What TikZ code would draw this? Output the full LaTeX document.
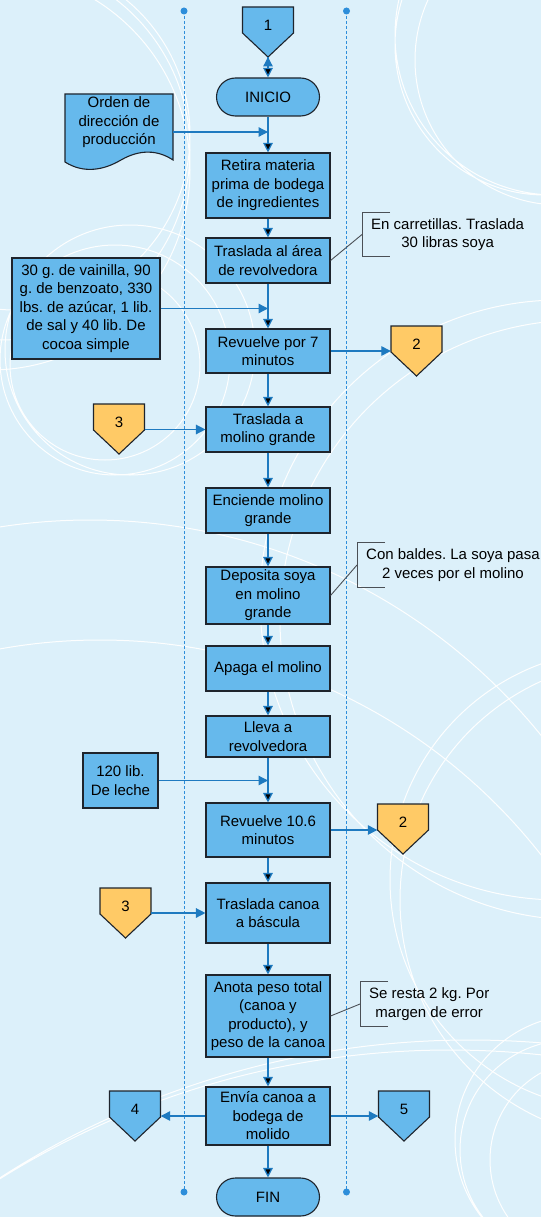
\documentclass[tikz,border=0pt]{standalone}
\usepackage{fontspec}
\setmainfont{Liberation Sans}
\usetikzlibrary{arrows.meta}
\definecolor{fondo}{RGB}{220,240,250}
\definecolor{azulCaja}{RGB}{102,185,236}
\definecolor{naranja}{RGB}{255,202,102}
\definecolor{azulLinea}{RGB}{30,122,192}
\definecolor{azulGuia}{RGB}{45,142,218}
\definecolor{borde}{RGB}{30,36,44}

% conector de pagina: nombre, centro, relleno, numero
\newcommand{\conector}[4]{%
  \filldraw[fill=#3,draw=borde,line width=1.1pt] (#2) ++(-25.5,-18.5) -- ++(51,0) -- ++(0,26)
    -- ++(-25.5,24) -- ++(-25.5,-24) -- cycle;
  \node[conector] (#1) at (#2) {#4};
  \path (#2) ++(0,31.5) coordinate (#1-punta);
}

\begin{document}
\begin{tikzpicture}[x=1pt,y=-1pt,>={Triangle[length=9.5pt,width=9.5pt]},font=\fontsize{15}{18.5}\selectfont\frenchspacing]
  \tikzstyle{proceso}=[rectangle,draw=borde,fill=azulCaja,line width=1.1pt,minimum width=124pt,align=center,inner sep=1pt]
  \tikzstyle{terminal}=[proceso,rounded corners=19pt,minimum width=103pt,minimum height=38pt]
  \tikzstyle{conector}=[rectangle,minimum width=51pt,minimum height=37pt,inner sep=0pt]
  \tikzstyle{nota}=[anchor=west,align=center,minimum height=44pt,inner xsep=9pt,inner ysep=0pt]
  \tikzstyle{flecha}=[->,draw=azulLinea,line width=1.3pt]
  \tikzstyle{corchete}=[draw=borde!80,line width=0.9pt]
  \tikzstyle{aro}=[white,line width=1pt,opacity=0.95]

  \useasboundingbox (0,0) rectangle (541,1217);
  \fill[fondo] (0,0) rectangle (541,1217);

  % aros del fondo
  \begin{scope}
    \clip (0,0) rectangle (541,1217);
    \draw[aro] (0,150) circle (190) (15,135) circle (175) (-10,170) circle (200);
    \draw[aro] (115,360) circle (115) (105,365) circle (95) (130,350) circle (125);
    \draw[aro] (545,45) circle (150) (555,35) circle (160) (560,60) circle (145);
    \draw[aro] (560,600) circle (300) (580,620) circle (300) (620,880) circle (230) (640,900) circle (240);
    \draw[aro] (90,1100) circle (580) (100,1200) circle (560);
    \draw[aro] (450,1900) circle (850) (470,1910) circle (870);
    \draw[aro] (570,1150) circle (110) (580,1140) circle (125) (590,1160) circle (100);
  \end{scope}

  % lineas guia
  \foreach \x in {184,346.5} {
    \draw[azulGuia,line width=0.9pt,dash pattern=on 3pt off 2pt] (\x,11) -- (\x,1192);
    \fill[azulGuia] (\x,11) circle (3.5) (\x,1192) circle (3.5);
  }

  % columna principal
  \conector{c1}{268,25.5}{azulCaja}{1}
  \node[terminal] (inicio)   at (268,97)     {INICIO};
  \node[proceso,minimum height=65pt] (retira)   at (268,185.5) {Retira materia\\prima de bodega\\de ingredientes};
  \node[proceso,minimum height=45pt] (traslada) at (268,260.5) {Traslada al área\\de revolvedora};
  \node[proceso,minimum height=44pt] (rev7)     at (268,351)   {Revuelve por 7\\minutos};
  \node[proceso,minimum height=45pt] (molino)   at (268,429.5) {Traslada a\\molino grande};
  \node[proceso,minimum height=45pt] (enciende) at (268,510.5) {Enciende molino\\grande};
  \node[proceso,minimum height=57pt] (deposita) at (268,595.5) {Deposita soya\\en molino\\grande};
  \node[proceso,minimum height=45pt] (apaga)    at (268,668.5) {Apaga el molino};
  \node[proceso,minimum height=41pt] (lleva)    at (268,736.5) {Lleva a\\revolvedora};
  \node[proceso,minimum height=54pt] (rev10)    at (268,830)   {Revuelve 10.6\\minutos};
  \node[proceso,minimum height=60pt] (canoa)    at (268,913)   {Traslada canoa\\a báscula};
  \node[proceso,minimum height=82pt] (anota)    at (268,1016)  {Anota peso total\\(canoa y\\producto), y\\peso de la canoa};
  \node[proceso,minimum height=58pt] (envia)    at (268,1116)  {Envía canoa a\\bodega de\\molido};
  \node[terminal] (fin)      at (268,1197)   {FIN};

  % entradas
  \filldraw[fill=azulCaja,draw=borde,line width=1.1pt] (65,94) -- (173,94) -- (173,160)
    .. controls (158,150) and (140,149) .. (121,160) .. controls (104,170) and (84,174) .. (65,162) -- cycle;
  \node[align=center] (orden) at (119,122.5) {Orden de\\dirección de\\producción};
  \coordinate (orden-sal) at (173,132);
  \node[proceso,minimum width=148pt,minimum height=101pt] (mezcla) at (86,308.5)
    {30 g. de vainilla, 90\\g. de benzoato, 330\\lbs. de azúcar, 1 lib.\\de sal y 40 lib. De\\cocoa simple};
  \node[proceso,minimum width=75pt,minimum height=55pt] (leche) at (120.5,780.5) {120 lib.\\De leche};

  % conectores laterales
  \conector{c2a}{416.5,344.5}{naranja}{2}
  \conector{c3a}{119,422.5}{naranja}{3}
  \conector{c2b}{403,822.5}{naranja}{2}
  \conector{c3b}{125.5,906.5}{naranja}{3}
  \conector{c4}{135,1109.5}{azulCaja}{4}
  \conector{c5}{404,1109.5}{azulCaja}{5}

  % notas
  \node[nota] (nota1) at (362,234.5) {En carretillas. Traslada\\30 libras soya};
  \node[nota] (nota2) at (357,565)   {Con baldes. La soya pasa\\2 veces por el molino};
  \node[nota] (nota3) at (360,1004)  {Se resta 2 kg. Por\\margen de error};
  \foreach \n in {nota1,nota2,nota3}
    \draw[corchete] ([xshift=28pt]\n.north west) -- (\n.north west) -- (\n.south west) -- ([xshift=28pt]\n.south west);
  \draw[corchete] (traslada.east) -- (nota1.west);
  \draw[corchete] (deposita.east) -- (nota2.west);
  \draw[corchete] (anota.east) -- (nota3.west);

  % flujo
  \path[flecha] (c1-punta) edge (inicio);
  \path[flecha] (inicio) edge (retira);
  \path[flecha] (retira) edge (traslada);
  \path[flecha] (traslada) edge (rev7);
  \path[flecha] (rev7) edge (molino);
  \path[flecha] (molino) edge (enciende);
  \path[flecha] (enciende) edge (deposita);
  \path[flecha] (deposita) edge (apaga);
  \path[flecha] (apaga) edge (lleva);
  \path[flecha] (lleva) edge (rev10);
  \path[flecha] (rev10) edge (canoa);
  \path[flecha] (canoa) edge (anota);
  \path[flecha] (anota) edge (envia);
  \path[flecha] (envia) edge (fin);

  \draw[flecha] (orden-sal) -- (orden-sal -| inicio);
  \draw[flecha] (mezcla.east) -- (mezcla.east -| inicio);
  \draw[flecha] (leche.east) -- (leche.east -| inicio);
  \draw[flecha] (rev7.east) -- (c2a.west |- rev7.east);
  \draw[flecha] (rev10.east) -- (c2b.west |- rev10.east);
  \draw[flecha] (c3a.east |- molino.west) -- (molino.west);
  \draw[flecha] (c3b.east |- canoa.west) -- (canoa.west);
  \draw[flecha] (envia.west) -- (c4.east |- envia.west);
  \draw[flecha] (envia.east) -- (c5.west |- envia.east);
\end{tikzpicture}
\end{document}
